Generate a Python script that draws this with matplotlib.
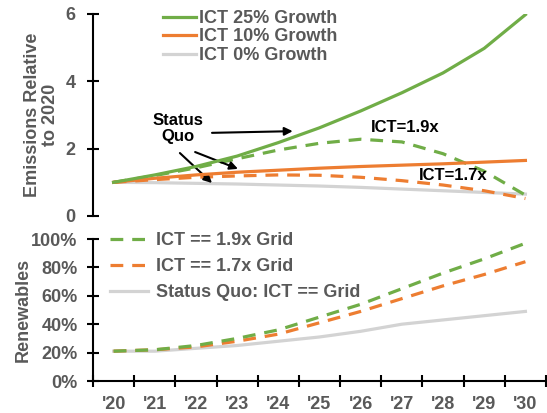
import matplotlib
matplotlib.use("Agg")
import matplotlib.pyplot as plt
import numpy as np
from matplotlib.ticker import FixedLocator, FuncFormatter

plt.rcParams['font.family'] = ['Liberation Sans', 'DejaVu Sans']
plt.rcParams['font.weight'] = 'bold'

years = ["'20", "'21", "'22", "'23", "'24", "'25", "'26", "'27", "'28", "'29", "'30"]

# Top panel: emissions relative to 2020
ict25 = [1.0, 1.22, 1.47, 1.78, 2.18, 2.62, 3.12, 3.66, 4.25, 4.98, 5.98]
ict10 = [1.0, 1.12, 1.22, 1.30, 1.36, 1.42, 1.47, 1.51, 1.55, 1.60, 1.65]
ict0 = [1.0, 0.99, 0.97, 0.95, 0.92, 0.89, 0.85, 0.80, 0.75, 0.70, 0.65]
ict19 = [1.0, 1.20, 1.43, 1.70, 1.96, 2.16, 2.28, 2.20, 1.85, 1.33, 0.62]
ict17 = [1.0, 1.08, 1.15, 1.19, 1.22, 1.21, 1.15, 1.05, 0.92, 0.75, 0.52]

# Bottom panel: renewables share
ren19 = [0.21, 0.22, 0.25, 0.30, 0.36, 0.45, 0.54, 0.65, 0.76, 0.86, 0.97]
ren17 = [0.21, 0.22, 0.24, 0.28, 0.33, 0.41, 0.49, 0.58, 0.67, 0.75, 0.84]
rensq = [0.21, 0.21, 0.23, 0.25, 0.28, 0.31, 0.35, 0.40, 0.43, 0.46, 0.49]

GREEN = '#70AD47'
ORANGE = '#ED7D31'
LGRAY = '#D3D3D3'
TGRAY = '#595959'

W, H = 547, 413
fig = plt.figure(figsize=(W / 100, H / 100), dpi=100)

def ax_rect(x0, y0, x1, y1):
    return [x0 / W, 1 - y1 / H, (x1 - x0) / W, (y1 - y0) / H]

ax1 = fig.add_axes(ax_rect(93, 14, 546, 216))
ax2 = fig.add_axes(ax_rect(93, 239, 546, 381))

x = np.arange(len(years))
LW = 2.3
DASH = (4, 2.8)

l0, = ax1.plot(x, ict0, color=LGRAY, lw=LW, label='ICT 0% Growth', zorder=2)
ax1.plot(x, ict17, color=ORANGE, lw=LW, dashes=DASH, zorder=3)
ax1.plot(x, ict19, color=GREEN, lw=LW, dashes=DASH, zorder=3)
l10, = ax1.plot(x, ict10, color=ORANGE, lw=LW, label='ICT 10% Growth', zorder=4)
l25, = ax1.plot(x, ict25, color=GREEN, lw=LW, label='ICT 25% Growth', zorder=4)

ax1.set_xlim(-0.5, 10.5)
ax1.set_ylim(0, 6)
for s in ['top', 'right', 'bottom']:
    ax1.spines[s].set_visible(False)
ax1.spines['left'].set_linewidth(1.5)
ax1.set_xticks([])
ax1.set_yticks([0, 2, 4, 6])
ax1.tick_params(axis='y', direction='inout', length=8, width=1.5, pad=8.5,
                labelsize=13, labelcolor=TGRAY)
for t in ax1.get_yticklabels():
    t.set_fontweight('bold')

leg1 = ax1.legend(handles=[l25, l10, l0], loc='upper left',
                  bbox_to_anchor=(163 / W, 1 - 10 / H), bbox_transform=fig.transFigure,
                  frameon=False, fontsize=13, handlelength=1.85, handletextpad=0.12,
                  labelspacing=0.08, borderpad=0, borderaxespad=0)
for t in leg1.get_texts():
    t.set_color(TGRAY)
    t.set_fontweight('bold')

# annotations
ax1.text(1.57, 2.60, 'Status\nQuo', ha='center', va='center', fontsize=12,
         fontweight='bold', color='black', linespacing=1.15)
ax1.text(7.07, 2.64, 'ICT=1.9x', ha='center', va='center', fontsize=12,
         fontweight='bold', color='black')
ax1.text(8.24, 1.19, 'ICT=1.7x', ha='center', va='center', fontsize=12,
         fontweight='bold', color='black')
aprops = dict(arrowstyle='-|>', color='black', lw=1.5, mutation_scale=12,
              shrinkA=0, shrinkB=0)
ax1.annotate('', xy=(4.35, 2.52), xytext=(2.39, 2.47), arrowprops=aprops)
ax1.annotate('', xy=(3.02, 1.40), xytext=(1.98, 1.90), arrowprops=aprops)
ax1.annotate('', xy=(2.39, 0.98), xytext=(1.61, 1.87), arrowprops=aprops)

# bottom panel
lsq, = ax2.plot(x, rensq, color=LGRAY, lw=LW, label='Status Quo: ICT == Grid', zorder=2)
l17, = ax2.plot(x, ren17, color=ORANGE, lw=LW, dashes=DASH, label='ICT == 1.7x Grid', zorder=3)
l19, = ax2.plot(x, ren19, color=GREEN, lw=LW, dashes=DASH, label='ICT == 1.9x Grid', zorder=3)

ax2.set_xlim(-0.5, 10.5)
ax2.set_ylim(0, 1)
for s in ['top', 'right']:
    ax2.spines[s].set_visible(False)
for s in ['left', 'bottom']:
    ax2.spines[s].set_linewidth(1.5)
ax2.set_yticks(np.arange(0, 1.01, 0.2))
ax2.yaxis.set_major_formatter(FuncFormatter(lambda v, p: f'{v * 100:.0f}%'))
ax2.tick_params(axis='y', direction='inout', length=8, width=1.5, pad=7,
                labelsize=13, labelcolor=TGRAY)
ax2.xaxis.set_major_locator(FixedLocator(np.arange(-0.5, 11, 1.0)))
ax2.xaxis.set_minor_locator(FixedLocator(x))
ax2.xaxis.set_major_formatter(FuncFormatter(lambda v, p: ''))
ax2.xaxis.set_minor_formatter(FuncFormatter(lambda v, p: years[int(round(v))]))
ax2.tick_params(axis='x', which='major', direction='inout', length=8, width=1.5)
ax2.tick_params(axis='x', which='minor', length=0, pad=11, labelsize=13,
                labelcolor=TGRAY)
for t in ax2.get_yticklabels() + ax2.get_xticklabels(minor=True):
    t.set_fontweight('bold')

leg2 = ax2.legend(handles=[l19, l17, lsq], loc='upper left',
                  bbox_to_anchor=(110 / W, 1 - 232 / H), bbox_transform=fig.transFigure,
                  frameon=False, fontsize=13, handlelength=2.1, handletextpad=0.45,
                  labelspacing=0.5, borderpad=0, borderaxespad=0)
for t in leg2.get_texts():
    t.set_color(TGRAY)
    t.set_fontweight('bold')

fig.text(41.5 / W, 1 - 114.5 / H, 'Emissions Relative\nto 2020', rotation=90,
         ha='center', va='center', multialignment='center', fontsize=13,
         fontweight='bold', color=TGRAY, linespacing=1.1)
fig.text(23 / W, 1 - 310 / H, 'Renewables', rotation=90, ha='center', va='center',
         fontsize=13, fontweight='bold', color=TGRAY)

fig.savefig('out.png', dpi=100)
